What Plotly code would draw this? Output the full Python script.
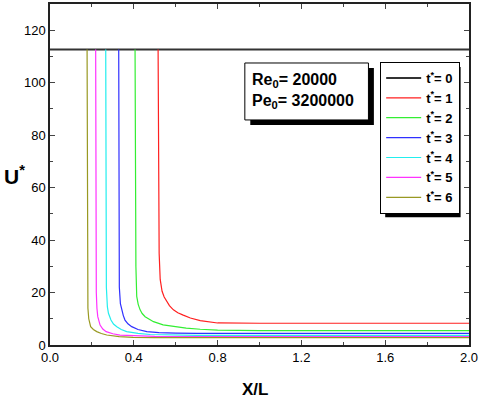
import plotly.graph_objects as go

# U* profiles
x_t0 = [0.0, 2.0]
u_t0 = [112.7, 112.7]

x_t1 = [0.516, 0.518, 0.521, 0.526, 0.535, 0.545, 0.553, 0.570, 0.589, 0.610, 0.636, 0.670, 0.717, 0.760, 0.800, 1.000, 1.500, 2.000]
u_t1 = [112.7, 60.0, 35.0, 25.0, 20.5, 18.3, 17.2, 15.0, 13.4, 12.3, 11.4, 10.3, 9.3, 8.7, 8.4, 8.3, 8.3, 8.3]

x_t2 = [0.406, 0.408, 0.410, 0.414, 0.421, 0.430, 0.440, 0.454, 0.494, 0.540, 0.589, 0.650, 0.717, 0.800, 1.000, 2.000]
u_t2 = [112.7, 60.0, 30.0, 18.5, 15.5, 13.4, 12.0, 10.8, 8.9, 7.7, 7.0, 6.4, 6.0, 5.7, 5.5, 5.5]

x_t3 = [0.328, 0.329, 0.331, 0.336, 0.342, 0.350, 0.358, 0.372, 0.390, 0.420, 0.462, 0.520, 0.600, 0.700, 1.000, 2.000]
u_t3 = [112.7, 50.0, 22.0, 15.8, 13.4, 11.2, 9.5, 8.1, 7.0, 5.9, 5.1, 4.7, 4.5, 4.4, 4.4, 4.4]

x_t4 = [0.266, 0.267, 0.269, 0.274, 0.279, 0.291, 0.303, 0.319, 0.340, 0.366, 0.420, 0.478, 0.560, 0.700, 1.000, 2.000]
u_t4 = [112.7, 50.0, 22.0, 14.5, 12.1, 9.5, 8.0, 7.0, 5.9, 5.1, 4.4, 4.0, 3.8, 3.7, 3.7, 3.7]

x_t5 = [0.218, 0.219, 0.221, 0.224, 0.228, 0.239, 0.252, 0.268, 0.300, 0.334, 0.400, 0.500, 0.700, 1.000, 2.000]
u_t5 = [112.7, 50.0, 20.0, 14.0, 10.8, 7.6, 6.1, 5.1, 4.3, 3.8, 3.5, 3.3, 3.2, 3.2, 3.2]

x_t6 = [0.177, 0.178, 0.179, 0.181, 0.185, 0.194, 0.207, 0.223, 0.245, 0.271, 0.330, 0.397, 0.500, 0.700, 1.000, 2.000]
u_t6 = [112.7, 50.0, 22.0, 14.0, 10.0, 7.0, 5.9, 5.1, 4.4, 3.8, 3.2, 2.9, 2.8, 2.8, 2.8, 2.8]

series = [
    ("t<sup>*</sup>= 0", x_t0, u_t0, "#333333", 2),
    ("t<sup>*</sup>= 1", x_t1, u_t1, "#ff2020", 1.2),
    ("t<sup>*</sup>= 2", x_t2, u_t2, "#33ee33", 1.2),
    ("t<sup>*</sup>= 3", x_t3, u_t3, "#3030ff", 1.2),
    ("t<sup>*</sup>= 4", x_t4, u_t4, "#22eeee", 1.2),
    ("t<sup>*</sup>= 5", x_t5, u_t5, "#ff33ff", 1.2),
    ("t<sup>*</sup>= 6", x_t6, u_t6, "#999922", 1.2),
]

fig = go.Figure()
for name, xs, us, col, w in series:
    fig.add_trace(go.Scatter(x=xs, y=us, name=name, mode="lines",
                             line=dict(color=col, width=w)))

# shadows behind the legend and the parameter box
fig.add_shape(type="rect", xref="paper", yref="paper", x0=0.800, x1=0.980, y0=0.375, y1=0.815,
              fillcolor="black", line=dict(width=0), layer="above")
fig.add_shape(type="rect", xref="paper", yref="paper", x0=0.478, x1=0.773, y0=0.645, y1=0.812,
              fillcolor="black", line=dict(width=0), layer="above")
fig.add_shape(type="rect", xref="paper", yref="paper", x0=0.465, x1=0.76, y0=0.66, y1=0.827,
              fillcolor="white", line=dict(color="black", width=1), layer="above")

fig.add_annotation(xref="paper", yref="paper", x=0.478, y=0.745, xanchor="left", yanchor="middle",
                   text="<b>Re<sub>0</sub>= 20000</b><br><b>Pe<sub>0</sub>= 3200000</b>",
                   showarrow=False, align="left",
                   font=dict(family="Arial", size=16, color="black"))

# axis titles
fig.add_annotation(xref="paper", yref="paper", x=-0.085, y=0.50, xanchor="center", yanchor="middle",
                   text="<b>U<sup>*</sup></b>", showarrow=False,
                   font=dict(family="Arial", size=21, color="black"))
fig.add_annotation(xref="paper", yref="paper", x=0.49, y=-0.13, xanchor="center", yanchor="middle",
                   text="<b>X/L</b>", showarrow=False,
                   font=dict(family="Arial", size=17, color="black"))

fig.update_layout(
    width=480, height=399,
    margin=dict(l=50, r=11, t=4, b=54),
    plot_bgcolor="white", paper_bgcolor="white",
    font=dict(family="Arial", size=13, color="black"),
    showlegend=True,
    legend=dict(x=0.788, y=0.830, xanchor="left", yanchor="top",
                bgcolor="white", bordercolor="black", borderwidth=1,
                font=dict(family="Arial", size=13, color="black", weight="bold"),
                itemwidth=35, tracegroupgap=0),
    xaxis=dict(range=[0, 2.0], dtick=0.4, tick0=0, tickformat=".1f", automargin=False,
               ticks="inside", ticklen=5, showline=True, linecolor="#222", linewidth=1.5,
               mirror="ticks", showgrid=False, zeroline=False,
               minor=dict(dtick=0.2, ticks="inside", ticklen=3)),
    yaxis=dict(range=[0, 130], dtick=20, tick0=0, automargin=False,
               ticks="inside", ticklen=5, showline=True, linecolor="#222", linewidth=1.5,
               mirror="ticks", showgrid=False, zeroline=False,
               minor=dict(dtick=10, ticks="inside", ticklen=3)),
)

# drop the browser's default page margin so the figure sits at the window corner
fig.write_html("out.html", config={"displayModeBar": False},
               post_script="document.body.style.margin='0';")
